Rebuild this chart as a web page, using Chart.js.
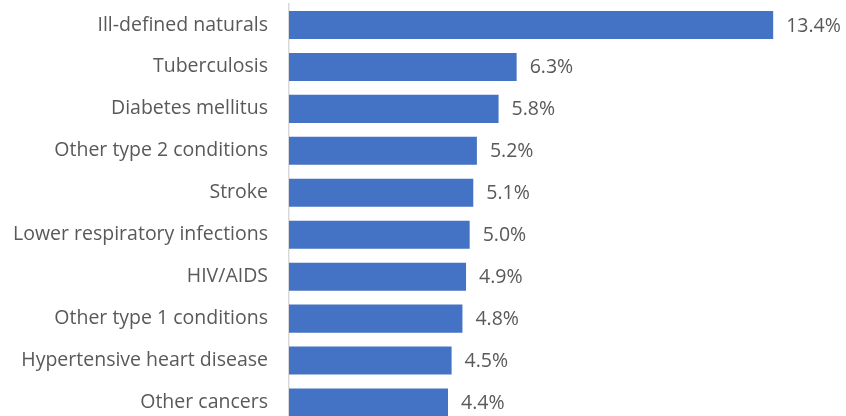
<!DOCTYPE html>
<html>
<head>
<meta charset="utf-8">
<script src="https://cdn.jsdelivr.net/npm/chart.js@4.4.0/dist/chart.umd.min.js"></script>
<style>
  html, body { margin: 0; padding: 0; background: #fff; overflow: hidden; }
</style>
</head>
<body>
<canvas id="myChart" width="846" height="430"></canvas>
<script>
// share of deaths by cause, top ten
const causes = ['Ill-defined naturals', 'Tuberculosis', 'Diabetes mellitus', 'Other type 2 conditions',
  'Stroke', 'Lower respiratory infections', 'HIV/AIDS', 'Other type 1 conditions',
  'Hypertensive heart disease', 'Other cancers'];
const shares = [13.4, 6.3, 5.8, 5.2, 5.1, 5.0, 4.9, 4.8, 4.5, 4.4];

const textColor = '#595959';
const fontFamily = '"Open Sans", sans-serif';
const fontSize = 19.5;

// writes the percentage just past the end of each bar
const valueLabels = {
  id: 'valueLabels',
  afterDatasetsDraw(chart) {
    const ctx = chart.ctx;
    const meta = chart.getDatasetMeta(0);
    ctx.save();
    ctx.fillStyle = textColor;
    ctx.font = fontSize + 'px ' + fontFamily;
    ctx.textAlign = 'left';
    ctx.textBaseline = 'middle';
    meta.data.forEach((bar, i) => {
      ctx.fillText(shares[i].toFixed(1) + '%', bar.x + 13, bar.y + 1);
    });
    ctx.restore();
  }
};

window.addEventListener('DOMContentLoaded', () => {
  const ctx = document.getElementById('myChart').getContext('2d');
  new Chart(ctx, {
    type: 'bar',
    data: {
      labels: causes,
      datasets: [{
        data: shares,
        backgroundColor: '#4472C4',
        borderWidth: 0,
        categoryPercentage: 0.668,
        barPercentage: 1
      }]
    },
    options: {
      indexAxis: 'y',
      responsive: false,
      animation: false,
      layout: { padding: { top: 4, right: 15, bottom: 6.5, left: 0 } },
      plugins: { legend: { display: false }, tooltip: { enabled: false } },
      scales: {
        x: { display: false, min: 0, max: 15 },
        y: {
          afterFit(scale) {
            scale.width = 289;
            // no extra room above/below for the first and last label
            scale.paddingTop = 0;
            scale.paddingBottom = 0;
          },
          grid: { display: false },
          border: { display: true, color: '#d9d9d9', width: 1.5 },
          ticks: { color: textColor, padding: 13, font: { family: fontFamily, size: fontSize } }
        }
      }
    },
    plugins: [valueLabels]
  });
});
</script>
</body>
</html>
